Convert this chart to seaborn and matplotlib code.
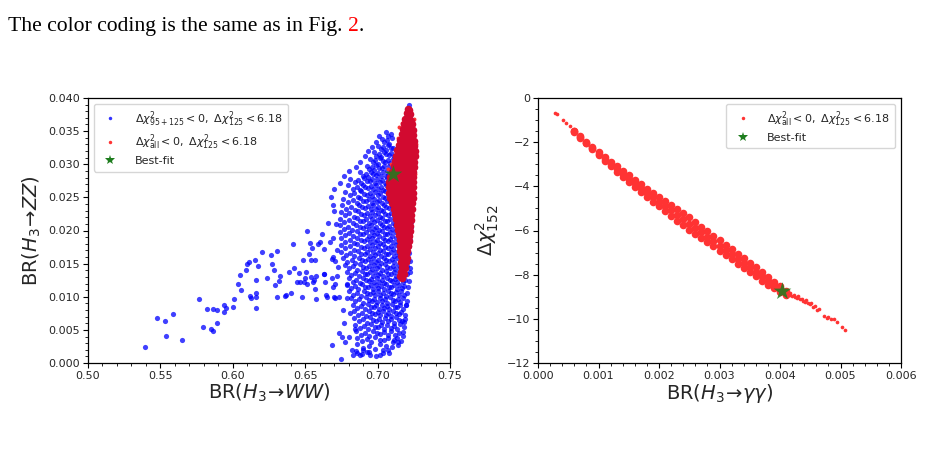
import matplotlib
matplotlib.use("Agg")
import matplotlib.pyplot as plt
from matplotlib.lines import Line2D
from matplotlib.ticker import AutoMinorLocator, MultipleLocator
import seaborn as sns

# ---------------- left panel: BR(H3->WW) vs BR(H3->ZZ) ----------------
# blue cloud (Delta chi2_{95+125} < 0), dense part, row by row
blue_x = [
 0.7055, 0.7075, 0.7092,
 0.7028, 0.7045, 0.7062, 0.7080, 0.7098,
 0.7005, 0.7022, 0.7040, 0.7058, 0.7074, 0.7090, 0.7108,
 0.6975, 0.6992, 0.7008, 0.7025, 0.7042, 0.7060, 0.7078, 0.7095, 0.7112,
 0.6950, 0.6966, 0.6984, 0.7000, 0.7018, 0.7035, 0.7052, 0.7070, 0.7088, 0.7105,
 0.6925, 0.6942, 0.6958, 0.6975, 0.6992, 0.7010, 0.7027, 0.7045, 0.7062, 0.7080, 0.7098,
 0.6878, 0.6900, 0.6918, 0.6935, 0.6952, 0.6970, 0.6987, 0.7005, 0.7022, 0.7040, 0.7057, 0.7075, 0.7092,
 0.6810, 0.6845, 0.6868, 0.6888, 0.6908, 0.6926, 0.6945, 0.6962, 0.6980, 0.6998, 0.7015, 0.7032, 0.7050, 0.7068, 0.7085,
 0.6796, 0.6830, 0.6855, 0.6876, 0.6897, 0.6916, 0.6935, 0.6952, 0.6970, 0.6988, 0.7005, 0.7022, 0.7040, 0.7058, 0.7076,
 0.6775, 0.6810, 0.6840, 0.6865, 0.6888, 0.6908, 0.6928, 0.6946, 0.6964, 0.6982, 0.7000, 0.7017, 0.7034, 0.7052, 0.7070,
 0.6760, 0.6795, 0.6828, 0.6855, 0.6880, 0.6900, 0.6920, 0.6940, 0.6958, 0.6976, 0.6994, 0.7012, 0.7030, 0.7048, 0.7066, 0.7085,
 0.6752, 0.6785, 0.6815, 0.6845, 0.6870, 0.6893, 0.6914, 0.6934, 0.6952, 0.6970, 0.6988, 0.7006, 0.7024, 0.7042, 0.7060, 0.7078, 0.7098,
 0.6745, 0.6775, 0.6805, 0.6835, 0.6862, 0.6886, 0.6908, 0.6928, 0.6946, 0.6964, 0.6982, 0.7000, 0.7018, 0.7036, 0.7054, 0.7072, 0.7090, 0.7110,
 0.6740, 0.6770, 0.6800, 0.6828, 0.6855, 0.6880, 0.6902, 0.6922, 0.6942, 0.6960, 0.6978, 0.6996, 0.7014, 0.7032, 0.7050, 0.7068, 0.7086, 0.7104, 0.7122, 0.7232,
 0.6738, 0.6768, 0.6798, 0.6825, 0.6852, 0.6876, 0.6898, 0.6918, 0.6938, 0.6956, 0.6974, 0.6992, 0.7010, 0.7028, 0.7046, 0.7064, 0.7082, 0.7100, 0.7118, 0.7134, 0.7228,
 0.6742, 0.6772, 0.6802, 0.6830, 0.6856, 0.6880, 0.6902, 0.6922, 0.6940, 0.6958, 0.6976, 0.6994, 0.7012, 0.7030, 0.7048, 0.7066, 0.7084, 0.7102, 0.7120, 0.7138, 0.7225,
 0.6748, 0.6778, 0.6808, 0.6835, 0.6860, 0.6884, 0.6906, 0.6926, 0.6945, 0.6963, 0.6981, 0.6999, 0.7017, 0.7035, 0.7053, 0.7071, 0.7089, 0.7107, 0.7125, 0.7143, 0.7222,
 0.6745, 0.6776, 0.6806, 0.6834, 0.6860, 0.6884, 0.6906, 0.6927, 0.6946, 0.6964, 0.6982, 0.7000, 0.7018, 0.7036, 0.7054, 0.7072, 0.7090, 0.7108, 0.7126, 0.7146, 0.7218,
 0.6750, 0.6782, 0.6812, 0.6840, 0.6865, 0.6888, 0.6910, 0.6930, 0.6949, 0.6967, 0.6985, 0.7003, 0.7021, 0.7039, 0.7057, 0.7075, 0.7093, 0.7111, 0.7129, 0.7150, 0.7215,
 0.6760, 0.6790, 0.6820, 0.6847, 0.6872, 0.6894, 0.6915, 0.6934, 0.6952, 0.6970, 0.6988, 0.7006, 0.7024, 0.7042, 0.7060, 0.7078, 0.7096, 0.7114, 0.7132, 0.7152, 0.7212, 0.7222,
 0.6775, 0.6805, 0.6833, 0.6858, 0.6881, 0.6902, 0.6922, 0.6941, 0.6959, 0.6977, 0.6995, 0.7013, 0.7031, 0.7049, 0.7067, 0.7085, 0.7103, 0.7121, 0.7139, 0.7157, 0.7200, 0.7222,
 0.6790, 0.6818, 0.6845, 0.6869, 0.6891, 0.6911, 0.6930, 0.6948, 0.6966, 0.6984, 0.7002, 0.7020, 0.7038, 0.7056, 0.7074, 0.7092, 0.7110, 0.7128, 0.7146, 0.7164, 0.7182, 0.7200, 0.7222,
 0.6800, 0.6828, 0.6854, 0.6878, 0.6900, 0.6920, 0.6939, 0.6957, 0.6975, 0.6993, 0.7011, 0.7029, 0.7047, 0.7065, 0.7083, 0.7101, 0.7119, 0.7137, 0.7155, 0.7173, 0.7191, 0.7218,
 0.6786, 0.6815, 0.6843, 0.6868, 0.6891, 0.6912, 0.6932, 0.6951, 0.6969, 0.6987, 0.7005, 0.7023, 0.7041, 0.7059, 0.7077, 0.7095, 0.7113, 0.7131, 0.7149, 0.7167, 0.7185, 0.7212,
 0.6800, 0.6830, 0.6857, 0.6882, 0.6905, 0.6926, 0.6946, 0.6965, 0.6983, 0.7001, 0.7019, 0.7037, 0.7055, 0.7073, 0.7091, 0.7109, 0.7127, 0.7145, 0.7163, 0.7181, 0.7205,
 0.6815, 0.6845, 0.6872, 0.6896, 0.6918, 0.6939, 0.6959, 0.6978, 0.6996, 0.7014, 0.7032, 0.7050, 0.7068, 0.7086, 0.7104, 0.7122, 0.7140, 0.7158, 0.7176, 0.7200,
 0.6830, 0.6860, 0.6886, 0.6910, 0.6932, 0.6953, 0.6973, 0.6992, 0.7010, 0.7028, 0.7046, 0.7064, 0.7082, 0.7100, 0.7118, 0.7136, 0.7154, 0.7172, 0.7195,
 0.6835, 0.6866, 0.6893, 0.6918, 0.6941, 0.6962, 0.6982, 0.7001, 0.7019, 0.7037, 0.7055, 0.7073, 0.7091, 0.7109, 0.7127, 0.7145, 0.7163, 0.7190,
 0.6840, 0.6872, 0.6900, 0.6925, 0.6948, 0.6970, 0.6990, 0.7010, 0.7030, 0.7050, 0.7070, 0.7090, 0.7110, 0.7130, 0.7150, 0.7168, 0.7186,
 0.6845, 0.6878, 0.6907, 0.6933, 0.6957, 0.6980, 0.7002, 0.7024, 0.7046, 0.7068, 0.7090, 0.7112, 0.7134, 0.7156, 0.7180,
 0.6850, 0.6885, 0.6916, 0.6944, 0.6970, 0.6995, 0.7020, 0.7045, 0.7070, 0.7095, 0.7120, 0.7145, 0.7176,
 0.6855, 0.6892, 0.6925, 0.6955, 0.6985, 0.7015, 0.7045, 0.7075, 0.7105, 0.7135, 0.7160,
 0.6860, 0.6900, 0.6940, 0.6980, 0.7020, 0.7060, 0.7100, 0.7140,
 0.6850, 0.6895, 0.6940, 0.6990, 0.7040, 0.7080,
]
blue_y = [
 0.0348, 0.0343, 0.0346,
 0.0338, 0.0333, 0.0336, 0.0331, 0.0339,
 0.0328, 0.0323, 0.0326, 0.0321, 0.0329, 0.0325, 0.0324,
 0.0318, 0.0313, 0.0316, 0.0311, 0.0319, 0.0315, 0.0314, 0.0317, 0.0312,
 0.0308, 0.0303, 0.0306, 0.0301, 0.0309, 0.0305, 0.0304, 0.0307, 0.0302, 0.0308,
 0.0298, 0.0293, 0.0296, 0.0291, 0.0299, 0.0295, 0.0294, 0.0297, 0.0292, 0.0298, 0.0293,
 0.0288, 0.0283, 0.0286, 0.0281, 0.0289, 0.0285, 0.0284, 0.0287, 0.0282, 0.0288, 0.0283, 0.0286, 0.0281,
 0.0278, 0.0273, 0.0276, 0.0271, 0.0279, 0.0275, 0.0274, 0.0277, 0.0272, 0.0278, 0.0273, 0.0276, 0.0271, 0.0279, 0.0275,
 0.0268, 0.0263, 0.0266, 0.0261, 0.0269, 0.0265, 0.0264, 0.0267, 0.0262, 0.0268, 0.0263, 0.0266, 0.0261, 0.0269, 0.0265,
 0.0258, 0.0253, 0.0256, 0.0251, 0.0259, 0.0255, 0.0254, 0.0257, 0.0252, 0.0258, 0.0253, 0.0256, 0.0251, 0.0259, 0.0255,
 0.0248, 0.0243, 0.0246, 0.0241, 0.0249, 0.0245, 0.0244, 0.0247, 0.0242, 0.0248, 0.0243, 0.0246, 0.0241, 0.0249, 0.0245, 0.0244,
 0.0238, 0.0233, 0.0236, 0.0231, 0.0239, 0.0235, 0.0234, 0.0237, 0.0232, 0.0238, 0.0233, 0.0236, 0.0231, 0.0239, 0.0235, 0.0234, 0.0237,
 0.0228, 0.0223, 0.0226, 0.0221, 0.0229, 0.0225, 0.0224, 0.0227, 0.0222, 0.0228, 0.0223, 0.0226, 0.0221, 0.0229, 0.0225, 0.0224, 0.0227, 0.0222,
 0.0218, 0.0213, 0.0216, 0.0211, 0.0219, 0.0215, 0.0214, 0.0217, 0.0212, 0.0218, 0.0213, 0.0216, 0.0211, 0.0219, 0.0215, 0.0214, 0.0217, 0.0212, 0.0218, 0.0213,
 0.0208, 0.0203, 0.0206, 0.0201, 0.0209, 0.0205, 0.0204, 0.0207, 0.0202, 0.0208, 0.0203, 0.0206, 0.0201, 0.0209, 0.0205, 0.0204, 0.0207, 0.0202, 0.0208, 0.0203, 0.0206,
 0.0198, 0.0193, 0.0196, 0.0191, 0.0199, 0.0195, 0.0194, 0.0197, 0.0192, 0.0198, 0.0193, 0.0196, 0.0191, 0.0199, 0.0195, 0.0194, 0.0197, 0.0192, 0.0198, 0.0193, 0.0196,
 0.0188, 0.0183, 0.0186, 0.0181, 0.0189, 0.0185, 0.0184, 0.0187, 0.0182, 0.0188, 0.0183, 0.0186, 0.0181, 0.0189, 0.0185, 0.0184, 0.0187, 0.0182, 0.0188, 0.0183, 0.0186,
 0.0178, 0.0173, 0.0176, 0.0171, 0.0179, 0.0175, 0.0174, 0.0177, 0.0172, 0.0178, 0.0173, 0.0176, 0.0171, 0.0179, 0.0175, 0.0174, 0.0177, 0.0172, 0.0178, 0.0173, 0.0176,
 0.0168, 0.0163, 0.0166, 0.0161, 0.0169, 0.0165, 0.0164, 0.0167, 0.0162, 0.0168, 0.0163, 0.0166, 0.0161, 0.0169, 0.0165, 0.0164, 0.0167, 0.0162, 0.0168, 0.0163, 0.0166,
 0.0158, 0.0153, 0.0156, 0.0151, 0.0159, 0.0155, 0.0154, 0.0157, 0.0152, 0.0158, 0.0153, 0.0156, 0.0151, 0.0159, 0.0155, 0.0154, 0.0157, 0.0152, 0.0158, 0.0153, 0.0156, 0.0154,
 0.0148, 0.0143, 0.0146, 0.0141, 0.0149, 0.0145, 0.0144, 0.0147, 0.0142, 0.0148, 0.0143, 0.0146, 0.0141, 0.0149, 0.0145, 0.0144, 0.0147, 0.0142, 0.0148, 0.0143, 0.0146, 0.0144,
 0.0138, 0.0133, 0.0136, 0.0131, 0.0139, 0.0135, 0.0134, 0.0137, 0.0132, 0.0138, 0.0133, 0.0136, 0.0131, 0.0139, 0.0135, 0.0134, 0.0137, 0.0132, 0.0138, 0.0133, 0.0136, 0.0134, 0.0137,
 0.0128, 0.0123, 0.0126, 0.0121, 0.0129, 0.0125, 0.0124, 0.0127, 0.0122, 0.0128, 0.0123, 0.0126, 0.0121, 0.0129, 0.0125, 0.0124, 0.0127, 0.0122, 0.0128, 0.0123, 0.0126, 0.0124,
 0.0118, 0.0113, 0.0116, 0.0111, 0.0119, 0.0115, 0.0114, 0.0117, 0.0112, 0.0118, 0.0113, 0.0116, 0.0111, 0.0119, 0.0115, 0.0114, 0.0117, 0.0112, 0.0118, 0.0113, 0.0116, 0.0114,
 0.0108, 0.0103, 0.0106, 0.0101, 0.0109, 0.0105, 0.0104, 0.0107, 0.0102, 0.0108, 0.0103, 0.0106, 0.0101, 0.0109, 0.0105, 0.0104, 0.0107, 0.0102, 0.0108, 0.0103, 0.0106,
 0.0098, 0.0093, 0.0096, 0.0091, 0.0099, 0.0095, 0.0094, 0.0097, 0.0092, 0.0098, 0.0093, 0.0096, 0.0091, 0.0099, 0.0095, 0.0094, 0.0097, 0.0092, 0.0098, 0.0093,
 0.0088, 0.0083, 0.0086, 0.0081, 0.0089, 0.0085, 0.0084, 0.0087, 0.0082, 0.0088, 0.0083, 0.0086, 0.0081, 0.0089, 0.0085, 0.0084, 0.0087, 0.0082, 0.0088,
 0.0078, 0.0073, 0.0076, 0.0071, 0.0079, 0.0075, 0.0074, 0.0077, 0.0072, 0.0078, 0.0073, 0.0076, 0.0071, 0.0079, 0.0075, 0.0074, 0.0077, 0.0072,
 0.0068, 0.0063, 0.0066, 0.0061, 0.0069, 0.0065, 0.0064, 0.0067, 0.0062, 0.0068, 0.0063, 0.0066, 0.0061, 0.0069, 0.0065, 0.0064, 0.0067,
 0.0058, 0.0053, 0.0056, 0.0051, 0.0059, 0.0055, 0.0054, 0.0057, 0.0052, 0.0058, 0.0053, 0.0056, 0.0051, 0.0059, 0.0055,
 0.0048, 0.0043, 0.0046, 0.0041, 0.0049, 0.0045, 0.0044, 0.0047, 0.0042, 0.0048, 0.0043, 0.0046, 0.0041,
 0.0038, 0.0033, 0.0036, 0.0031, 0.0039, 0.0035, 0.0034, 0.0037, 0.0032, 0.0038, 0.0033,
 0.0028, 0.0023, 0.0026, 0.0021, 0.0029, 0.0025, 0.0024, 0.0027,
 0.0018, 0.0013, 0.0016, 0.0011, 0.0019, 0.0015,
]

# sparse blue points (outliers on the left and lower edge)
blue_sparse_x = [
 0.5396, 0.5479, 0.5530, 0.5542, 0.5585, 0.5650, 0.5767, 0.5795, 0.5823, 0.5846,
 0.5866, 0.5862, 0.5889, 0.5892, 0.5940, 0.5940, 0.5956, 0.6002, 0.6009, 0.6039,
 0.6048, 0.6060, 0.6092, 0.6097, 0.6113, 0.6118, 0.6124, 0.6152, 0.6157, 0.6160,
 0.6161, 0.6160, 0.6173, 0.6200, 0.6233, 0.6265, 0.6274, 0.6283, 0.6293, 0.6302,
 0.6306, 0.6320, 0.6323, 0.6360, 0.6370, 0.6390, 0.6405, 0.6419, 0.6424, 0.6442,
 0.6454, 0.6463, 0.6477, 0.6484, 0.6493, 0.6505, 0.6514, 0.6523, 0.6532, 0.6537,
 0.6541, 0.6546, 0.6555, 0.6562, 0.6567, 0.6569, 0.6574, 0.6590, 0.6601, 0.6615,
 0.6627, 0.6629, 0.6634, 0.6647, 0.6670, 0.6682, 0.6689, 0.6700, 0.6717, 0.6705,
 0.6499, 0.6510, 0.6575, 0.6630, 0.6648, 0.6683, 0.6706, 0.6736, 0.6752, 0.6688,
 0.6747, 0.6775, 0.6787, 0.6810, 0.6821, 0.6832, 0.6844, 0.6856, 0.6878, 0.6901,
 0.6925, 0.6948, 0.7017, 0.7040, 0.7074, 0.7116, 0.7143, 0.7178, 0.7182, 0.7196,
 0.6700, 0.6712, 0.6695, 0.6720, 0.6690, 0.6725, 0.6705, 0.6735, 0.6760, 0.6770,
 0.6790, 0.6800, 0.6660, 0.6694, 0.6680, 0.6700, 0.6740, 0.6770, 0.6800, 0.6850,
 0.6880, 0.6910, 0.6935, 0.6960, 0.6990, 0.7010, 0.7219, 0.7225, 0.7232, 0.7210,
]
blue_sparse_y = [
 0.0024, 0.0068, 0.0063, 0.0041, 0.0074, 0.0035, 0.0097, 0.0055, 0.0082, 0.0051,
 0.0049, 0.0081, 0.0061, 0.0080, 0.0088, 0.0077, 0.0083, 0.0085, 0.0097, 0.0120,
 0.0133, 0.0110, 0.0141, 0.0149, 0.0153, 0.0101, 0.0098, 0.0155, 0.0125, 0.0105,
 0.0099, 0.0083, 0.0147, 0.0168, 0.0129, 0.0163, 0.0149, 0.0141, 0.0117, 0.0169,
 0.0100, 0.0124, 0.0132, 0.0101, 0.0102, 0.0138, 0.0105, 0.0179, 0.0144, 0.0122,
 0.0136, 0.0123, 0.0099, 0.0156, 0.0123, 0.0137, 0.0199, 0.0165, 0.0181, 0.0130,
 0.0155, 0.0174, 0.0122, 0.0125, 0.0111, 0.0155, 0.0096, 0.0180, 0.0182, 0.0194,
 0.0135, 0.0172, 0.0123, 0.0102, 0.0182, 0.0157, 0.0115, 0.0099, 0.0131, 0.0154,
 0.0128, 0.0120, 0.0131, 0.0135, 0.0100, 0.0128, 0.0098, 0.0045, 0.0040, 0.0027,
 0.0006, 0.0032, 0.0098, 0.0075, 0.0020, 0.0012, 0.0052, 0.0015, 0.0012, 0.0020,
 0.0017, 0.0012, 0.0012, 0.0015, 0.0020, 0.0035, 0.0032, 0.0047, 0.0062, 0.0088,
 0.0230, 0.0210, 0.0188, 0.0170, 0.0160, 0.0145, 0.0120, 0.0100, 0.0080, 0.0060,
 0.0120, 0.0040, 0.0212, 0.0239, 0.0250, 0.0262, 0.0272, 0.0282, 0.0290, 0.0296,
 0.0303, 0.0312, 0.0320, 0.0326, 0.0334, 0.0342, 0.0389, 0.0372, 0.0365, 0.0366,
]

# red cloud (Delta chi2_all < 0), drawn over the blue one
red_x = [
 0.7208, 0.7215,
 0.7200, 0.7212, 0.7224,
 0.7192, 0.7205, 0.7218, 0.7230,
 0.7185, 0.7198, 0.7212, 0.7226, 0.7238,
 0.7178, 0.7192, 0.7206, 0.7220, 0.7234, 0.7245,
 0.7168, 0.7183, 0.7198, 0.7213, 0.7228, 0.7243,
 0.7155, 0.7172, 0.7189, 0.7206, 0.7223, 0.7240, 0.7252,
 0.7145, 0.7162, 0.7180, 0.7198, 0.7216, 0.7234, 0.7252,
 0.7137, 0.7155, 0.7173, 0.7191, 0.7209, 0.7227, 0.7245, 0.7256,
 0.7130, 0.7148, 0.7166, 0.7184, 0.7202, 0.7220, 0.7238, 0.7255,
 0.7122, 0.7140, 0.7158, 0.7176, 0.7194, 0.7212, 0.7230, 0.7250,
 0.7112, 0.7131, 0.7150, 0.7169, 0.7188, 0.7207, 0.7226, 0.7248,
 0.7100, 0.7120, 0.7140, 0.7160, 0.7180, 0.7200, 0.7220, 0.7245,
 0.7088, 0.7108, 0.7128, 0.7148, 0.7168, 0.7188, 0.7208, 0.7228, 0.7246,
 0.7082, 0.7102, 0.7122, 0.7142, 0.7162, 0.7182, 0.7202, 0.7222, 0.7245,
 0.7080, 0.7100, 0.7120, 0.7140, 0.7160, 0.7180, 0.7200, 0.7220, 0.7244,
 0.7082, 0.7102, 0.7122, 0.7142, 0.7162, 0.7182, 0.7202, 0.7222, 0.7244,
 0.7088, 0.7108, 0.7128, 0.7148, 0.7168, 0.7188, 0.7208, 0.7228, 0.7243,
 0.7098, 0.7116, 0.7134, 0.7152, 0.7170, 0.7188, 0.7206, 0.7224, 0.7240,
 0.7110, 0.7127, 0.7144, 0.7161, 0.7178, 0.7195, 0.7212, 0.7228, 0.7238,
 0.7120, 0.7136, 0.7152, 0.7168, 0.7184, 0.7200, 0.7216, 0.7234,
 0.7128, 0.7143, 0.7158, 0.7173, 0.7188, 0.7203, 0.7218, 0.7230,
 0.7136, 0.7150, 0.7164, 0.7178, 0.7192, 0.7206, 0.7226,
 0.7143, 0.7156, 0.7169, 0.7182, 0.7195, 0.7208, 0.7222,
 0.7148, 0.7161, 0.7174, 0.7187, 0.7200, 0.7218,
 0.7152, 0.7164, 0.7176, 0.7188, 0.7200, 0.7214,
 0.7155, 0.7167, 0.7179, 0.7191, 0.7210,
 0.7158, 0.7170, 0.7182, 0.7194, 0.7206,
 0.7161, 0.7173, 0.7185, 0.7200,
 0.7164, 0.7176, 0.7194,
 0.7166, 0.7178, 0.7188,
 0.7165, 0.7180,
 0.7168, 0.7154,
]
red_y = [
 0.0384, 0.0382,
 0.0377, 0.0375, 0.0376,
 0.0369, 0.0367, 0.0368, 0.0366,
 0.0361, 0.0359, 0.0360, 0.0358, 0.0361,
 0.0353, 0.0351, 0.0352, 0.0350, 0.0353, 0.0352,
 0.0345, 0.0343, 0.0344, 0.0342, 0.0345, 0.0344,
 0.0337, 0.0335, 0.0336, 0.0334, 0.0337, 0.0336, 0.0335,
 0.0329, 0.0327, 0.0328, 0.0326, 0.0329, 0.0328, 0.0327,
 0.0321, 0.0319, 0.0320, 0.0318, 0.0321, 0.0320, 0.0319, 0.0320,
 0.0313, 0.0311, 0.0312, 0.0310, 0.0313, 0.0312, 0.0311, 0.0312,
 0.0305, 0.0303, 0.0304, 0.0302, 0.0305, 0.0304, 0.0303, 0.0304,
 0.0297, 0.0295, 0.0296, 0.0294, 0.0297, 0.0296, 0.0295, 0.0296,
 0.0289, 0.0287, 0.0288, 0.0286, 0.0289, 0.0288, 0.0287, 0.0288,
 0.0281, 0.0279, 0.0280, 0.0278, 0.0281, 0.0280, 0.0279, 0.0280, 0.0281,
 0.0273, 0.0271, 0.0272, 0.0270, 0.0273, 0.0272, 0.0271, 0.0272, 0.0273,
 0.0265, 0.0263, 0.0264, 0.0262, 0.0265, 0.0264, 0.0263, 0.0264, 0.0265,
 0.0257, 0.0255, 0.0256, 0.0254, 0.0257, 0.0256, 0.0255, 0.0256, 0.0257,
 0.0249, 0.0247, 0.0248, 0.0246, 0.0249, 0.0248, 0.0247, 0.0248, 0.0249,
 0.0241, 0.0239, 0.0240, 0.0238, 0.0241, 0.0240, 0.0239, 0.0240, 0.0241,
 0.0233, 0.0231, 0.0232, 0.0230, 0.0233, 0.0232, 0.0231, 0.0232, 0.0233,
 0.0225, 0.0223, 0.0224, 0.0222, 0.0225, 0.0224, 0.0223, 0.0224,
 0.0217, 0.0215, 0.0216, 0.0214, 0.0217, 0.0216, 0.0215, 0.0216,
 0.0209, 0.0207, 0.0208, 0.0206, 0.0209, 0.0208, 0.0207,
 0.0201, 0.0199, 0.0200, 0.0198, 0.0201, 0.0200, 0.0199,
 0.0193, 0.0191, 0.0192, 0.0190, 0.0193, 0.0192,
 0.0185, 0.0183, 0.0184, 0.0182, 0.0185, 0.0184,
 0.0177, 0.0175, 0.0176, 0.0174, 0.0177,
 0.0169, 0.0167, 0.0168, 0.0166, 0.0169,
 0.0161, 0.0159, 0.0160, 0.0158,
 0.0153, 0.0151, 0.0152,
 0.0145, 0.0143, 0.0144,
 0.0137, 0.0135,
 0.0128, 0.0132,
]
# lighter red strays at the wedge edge
red_edge_x = [0.7075, 0.7260, 0.7262, 0.7150, 0.7166, 0.7250, 0.7258, 0.7262, 0.7092, 0.7140]
red_edge_y = [0.0293, 0.0300, 0.0330, 0.0356, 0.0362, 0.0368, 0.0285, 0.0315, 0.0300, 0.0340]

best_ww, best_zz = [0.7108], [0.0285]

# ---------------- right panel: BR(H3->gamma gamma) vs Delta chi2_152 ----------------
gg_x = [0.0006, 0.0007, 0.0008, 0.0009, 0.0010, 0.0011, 0.0012, 0.0013, 0.0014, 0.0015,
        0.0016, 0.0017, 0.0018, 0.0019, 0.0020, 0.0021, 0.0022, 0.0023, 0.0024, 0.0025,
        0.0026, 0.0027, 0.0028, 0.0029, 0.0030, 0.0031, 0.0032, 0.0033, 0.0034, 0.0035,
        0.0036, 0.0037, 0.0038, 0.0039, 0.0040, 0.0041]
gg_mid = [-1.51, -1.76, -2.02, -2.27, -2.53, -2.77, -3.00, -3.22, -3.44, -3.65,
          -3.87, -4.08, -4.29, -4.49, -4.69, -4.89, -5.09, -5.29, -5.49, -5.69,
          -5.89, -6.09, -6.29, -6.48, -6.68, -6.88, -7.08, -7.28, -7.47, -7.67,
          -7.87, -8.07, -8.27, -8.46, -8.66, -8.84]
gg_upper = [-1.50, -1.73, -1.98, -2.22, -2.46, -2.69, -2.90, -3.10, -3.31, -3.50,
            -3.71, -3.91, -4.11, -4.29, -4.48, -4.66, -4.85, -5.03, -5.22, -5.41,
            -5.62, -5.83, -6.04, -6.24, -6.44, -6.65, -6.85, -7.06, -7.25, -7.46,
            -7.66, -7.87, -8.09, -8.31, -8.53, -8.74]
gg_lower = [-1.52, -1.79, -2.06, -2.32, -2.60, -2.85, -3.10, -3.34, -3.57, -3.80,
            -4.03, -4.25, -4.47, -4.69, -4.90, -5.12, -5.33, -5.55, -5.76, -5.97,
            -6.16, -6.35, -6.54, -6.72, -6.92, -7.11, -7.31, -7.50, -7.69, -7.88,
            -8.08, -8.27, -8.45, -8.61, -8.79, -8.94]
gg_sparse_x = [0.00028, 0.00031, 0.00041, 0.00046, 0.00053,
               0.00412, 0.00416, 0.00417, 0.00420, 0.00423, 0.00425, 0.00428, 0.00430,
               0.00433, 0.00436, 0.00438, 0.00441, 0.00443, 0.00447, 0.00450, 0.00452,
               0.00455, 0.00458, 0.00461, 0.00465, 0.00472, 0.00477, 0.00480, 0.00485,
               0.00490, 0.00494, 0.00502, 0.00507]
gg_sparse_y = [-0.69, -0.74, -1.00, -1.12, -1.27,
               -8.90, -8.82, -8.92, -8.97, -8.90, -9.00, -9.05, -8.98,
               -9.12, -9.08, -9.18, -9.22, -9.15, -9.30, -9.35, -9.28,
               -9.48, -9.42, -9.60, -9.55, -9.87, -9.98, -9.92, -10.02,
               -10.00, -10.13, -10.36, -10.51]
best_gg, best_dchi = [0.00404], [-8.74]

assert len(blue_x) == len(blue_y)
assert len(blue_sparse_x) == len(blue_sparse_y)
assert len(red_x) == len(red_y)

label_blue = r"$\Delta\chi^2_{95+125}<0,\ \Delta\chi^2_{125}<6.18$"
label_red = r"$\Delta\chi^2_{\mathrm{all}}<0,\ \Delta\chi^2_{125}<6.18$"

# ---------------- figure ----------------
sns.set_style("ticks")
plt.rcParams["font.family"] = ["DejaVu Sans"]
plt.rcParams["mathtext.fontset"] = "dejavusans"

W, H = 927, 449
fig = plt.figure(figsize=(W / 100, H / 100), dpi=100)
ax1 = fig.add_axes([88 / W, 1 - 363 / H, (450 - 88) / W, (363 - 98) / H])
ax2 = fig.add_axes([538 / W, 1 - 363 / H, (901 - 538) / W, (363 - 98) / H])

BLUE = "#0000ff"
RED = "#ff0000"
RED_SOLID = "#ff3333"     # red at alpha 0.8 over white
CRIMSON = "#d20a30"       # red at alpha 0.8 over the dense blue cloud
GREEN = "#1e7d1e"

# left
sns.scatterplot(x=blue_x + blue_sparse_x, y=blue_y + blue_sparse_y,
                ax=ax1, color=BLUE, alpha=0.75, s=14, linewidth=0, legend=False)
sns.scatterplot(x=red_edge_x, y=red_edge_y, ax=ax1, color=RED_SOLID, s=8,
                linewidth=0, legend=False)
sns.scatterplot(x=red_x, y=red_y, ax=ax1, color=CRIMSON, s=30,
                linewidth=0, legend=False)
sns.scatterplot(x=best_ww, y=best_zz, ax=ax1, color=GREEN, marker="*", s=180,
                linewidth=0, alpha=0.85, legend=False)
ax1.set_xlim(0.50, 0.75)
ax1.set_ylim(0.0, 0.04)
ax1.xaxis.set_major_locator(MultipleLocator(0.05))
ax1.yaxis.set_major_locator(MultipleLocator(0.005))
ax1.set_xlabel(r"BR($H_3\!\rightarrow\!WW$)", fontsize=14, labelpad=1)
ax1.set_ylabel(r"BR($H_3\!\rightarrow\!ZZ$)", fontsize=14, labelpad=4)

h_blue = Line2D([], [], ls="", marker="o", color=BLUE, alpha=0.8, markersize=2.5, markeredgewidth=0)
h_red = Line2D([], [], ls="", marker="o", color=RED, alpha=0.8, markersize=2.5, markeredgewidth=0)
h_star = Line2D([], [], ls="", marker="*", color=GREEN, markersize=7, markeredgewidth=0)
ax1.legend([h_blue, h_red, h_star], [label_blue, label_red, "Best-fit"],
           loc="upper left", fontsize=8, frameon=True, borderpad=0.5,
           handletextpad=1.2, labelspacing=0.35, borderaxespad=0.5)

# right
sns.scatterplot(x=gg_x * 3, y=gg_upper + gg_mid + gg_lower, ax=ax2, color=RED_SOLID,
                s=30, linewidth=0, legend=False)
sns.scatterplot(x=gg_sparse_x, y=gg_sparse_y, ax=ax2, color=RED_SOLID, s=7,
                linewidth=0, legend=False)
sns.scatterplot(x=best_gg, y=best_dchi, ax=ax2, color=GREEN, marker="*", s=180,
                linewidth=0, alpha=0.85, legend=False)
ax2.set_xlim(0.0, 0.006)
ax2.set_ylim(-12, 0)
ax2.xaxis.set_major_locator(MultipleLocator(0.001))
ax2.yaxis.set_major_locator(MultipleLocator(2))
ax2.set_xlabel(r"BR($H_3\!\rightarrow\!\gamma\gamma$)", fontsize=14, labelpad=1)
ax2.set_ylabel(r"$\Delta\chi^2_{152}$", fontsize=14, labelpad=4)
ax2.legend([h_red, h_star], [label_red, "Best-fit"], loc="upper right", fontsize=8,
           frameon=True, borderpad=0.5, handletextpad=1.2, labelspacing=0.35,
           borderaxespad=0.5)

for ax in (ax1, ax2):
    ax.xaxis.set_minor_locator(AutoMinorLocator(5))
    ax.yaxis.set_minor_locator(AutoMinorLocator(5 if ax is ax1 else 4))
    ax.tick_params(which="major", direction="out", length=3.5, width=0.8,
                   labelsize=8, color="black", pad=2)
    ax.tick_params(which="minor", direction="out", length=2, width=0.6, color="black")
    for sp in ax.spines.values():
        sp.set_color("black")
        sp.set_linewidth(0.9)
        sp.set_visible(True)

# header line of text above the figure
fs = 15.6
t1 = fig.text(8 / W, 1 - 31 / H, "The color coding is the same as in Fig. ",
              fontsize=fs, family="Liberation Serif", color="black", va="baseline")
r = fig.canvas.get_renderer()
bb = t1.get_window_extent(renderer=r)
t2 = fig.text(bb.x1 / W, 1 - 31 / H, "2", fontsize=fs, family="Liberation Serif",
              color="red", va="baseline")
bb2 = t2.get_window_extent(renderer=r)
fig.text(bb2.x1 / W, 1 - 31 / H, ".", fontsize=fs, family="Liberation Serif",
         color="black", va="baseline")

fig.savefig("out.png", dpi=100)
